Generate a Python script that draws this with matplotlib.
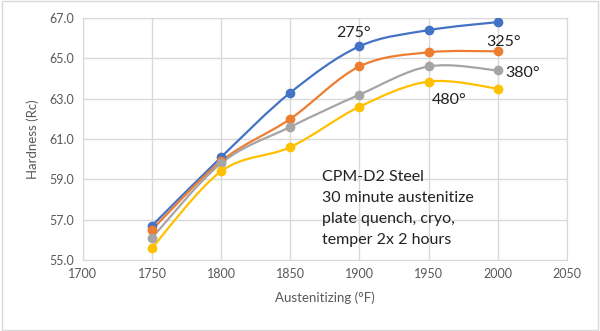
import matplotlib
matplotlib.use('Agg')
import numpy as np
import matplotlib.pyplot as plt
from matplotlib.path import Path
from matplotlib.patches import PathPatch, Rectangle

# austenitizing temps and hardness for each temper temp
temps_f = [1750, 1800, 1850, 1900, 1950, 2000]
hrc_275 = [56.7, 60.1, 63.3, 65.6, 66.4, 66.8]
hrc_325 = [56.5, 59.9, 62.0, 64.6, 65.3, 65.35]
hrc_380 = [56.1, 59.8, 61.6, 63.2, 64.6, 64.4]
hrc_480 = [55.6, 59.4, 60.6, 62.6, 63.85, 63.5]
series_labels = ['275°', '325°', '380°', '480°']
colors = ['#4472C4', '#ED7D31', '#A5A5A5', '#FFC000']
x_ticks = [1700, 1750, 1800, 1850, 1900, 1950, 2000, 2050]
y_ticks = [55.0, 57.0, 59.0, 61.0, 63.0, 65.0, 67.0]
note = "CPM-D2 Steel\n30 minute austenitize\nplate quench, cryo,\ntemper 2x 2 hours"

plt.rcParams['font.family'] = ['Lato', 'DejaVu Sans']


def smooth_path(xs, ys):
    # excel style smoothed line: bezier segments with catmull-rom control points
    pts = np.column_stack([xs, ys]).astype(float)
    verts = [pts[0]]
    codes = [Path.MOVETO]
    n = len(pts)
    for i in range(n - 1):
        p0 = pts[i - 1] if i > 0 else pts[i]
        p1 = pts[i]
        p2 = pts[i + 1]
        p3 = pts[i + 2] if i + 2 < n else pts[i + 1]
        c1 = p1 + (p2 - p0) / 6.0
        c2 = p2 - (p3 - p1) / 6.0
        verts += [c1, c2, p2]
        codes += [Path.CURVE4] * 3
    return Path(verts, codes)


fig = plt.figure(figsize=(6.0, 3.31), dpi=100)
fig.patches.append(Rectangle((0.003, 0.004), 0.994, 0.992, transform=fig.transFigure,
                             fill=False, edgecolor='#D9D9D9', linewidth=1.0))
ax = fig.add_axes([0.138, 0.2145, 0.807, 0.731])

for ys, c in zip([hrc_275, hrc_325, hrc_380, hrc_480], colors):
    ax.add_patch(PathPatch(smooth_path(temps_f, ys), facecolor='none', edgecolor=c,
                           linewidth=1.6, zorder=3))
    ax.plot(temps_f, ys, linestyle='none', marker='o', markersize=6, color=c, zorder=4)

ax.set_xlim(1700, 2050)
ax.set_ylim(55, 67)
ax.set_xticks(x_ticks)
ax.set_yticks(y_ticks)
ax.set_yticklabels([f"{v:.1f}" for v in y_ticks])
ax.grid(True, color='#D9D9D9', linewidth=1.0)
ax.set_axisbelow(True)
for s in ax.spines.values():
    s.set_color('#D9D9D9')
ax.tick_params(length=0, labelsize=9, colors='#595959', pad=6)
ax.set_xlabel('Austenitizing (°F)', fontsize=9.5, color='#595959', labelpad=8)
ax.set_ylabel('Hardness (Rc)', fontsize=9.5, color='#595959', labelpad=8)

# temper labels
label_pos = [(1896, 66.28), (2004, 65.83), (2018, 64.29), (1965, 62.95)]
for lbl, (lx, ly) in zip(series_labels, label_pos):
    ax.text(lx, ly, lbl, fontsize=11.5, color='#222222', ha='center', va='center')

ax.text(1873, 59.45, note, fontsize=11.5, color='#222222', ha='left', va='top',
        linespacing=1.62)

fig.savefig('out.png', dpi=100)
